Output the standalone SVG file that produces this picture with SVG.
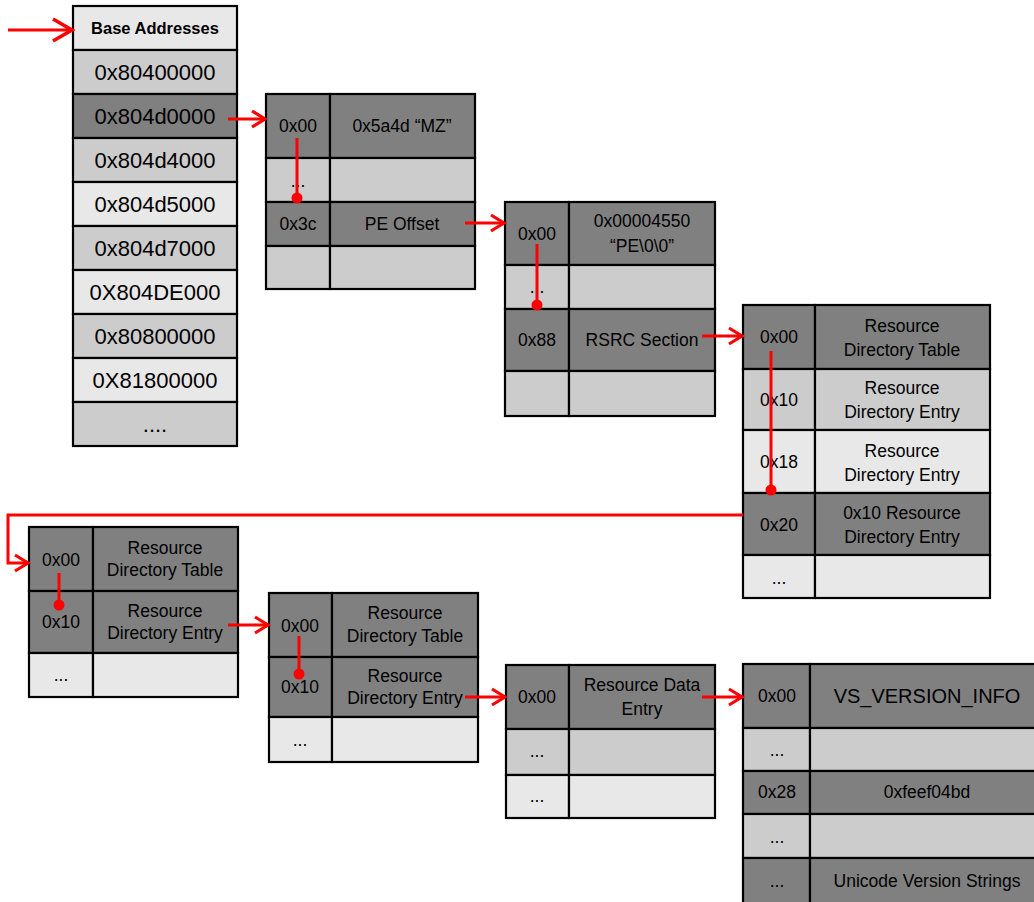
<svg xmlns="http://www.w3.org/2000/svg" width="1034" height="902" viewBox="0 0 1034 902">
<style>
.d{fill:#808080;stroke:#000;stroke-width:2.2}
.m{fill:#cccccc;stroke:#000;stroke-width:2.2}
.l{fill:#e8e8e8;stroke:#000;stroke-width:2.2}
text{font-family:"Liberation Sans",Arial,sans-serif;fill:#000;text-anchor:middle}
.t{font-size:17.5px}
.big{font-size:22px}
.hd{font-size:16.5px;font-weight:bold}
.vs{font-size:20px}
.c{fill:none;stroke:#ff0000;stroke-width:3}
</style>
<defs>
<marker id="ah" markerUnits="userSpaceOnUse" markerWidth="18" markerHeight="20" viewBox="0 0 18 20" refX="15" refY="10" orient="auto">
<path d="M2,2 L15,10 L2,18" fill="none" stroke="#ff0000" stroke-width="3.2"/>
</marker>
<marker id="ahb" markerUnits="userSpaceOnUse" markerWidth="26" markerHeight="26" viewBox="0 0 26 26" refX="22" refY="13" orient="auto">
<path d="M3,2 L22,13 L3,24" fill="none" stroke="#ff0000" stroke-width="3.6"/>
</marker>
<marker id="dot" markerUnits="userSpaceOnUse" markerWidth="14" markerHeight="14" viewBox="0 0 14 14" refX="7" refY="7">
<circle cx="7" cy="7" r="5.5" fill="#ff0000"/>
</marker>
</defs>

<g id="base">
<rect class="l" x="73" y="6" width="164" height="44"/>
<rect class="m" x="73" y="50" width="164" height="44"/>
<rect class="d" x="73" y="94" width="164" height="44"/>
<rect class="m" x="73" y="138" width="164" height="44"/>
<rect class="l" x="73" y="182" width="164" height="44"/>
<rect class="m" x="73" y="226" width="164" height="44"/>
<rect class="l" x="73" y="270" width="164" height="44"/>
<rect class="m" x="73" y="314" width="164" height="44"/>
<rect class="l" x="73" y="358" width="164" height="44"/>
<rect class="m" x="73" y="402" width="164" height="44"/>
<text class="hd" x="155" y="34">Base Addresses</text>
<text class="big" x="155" y="80">0x80400000</text>
<text class="big" x="155" y="124">0x804d0000</text>
<text class="big" x="155" y="168">0x804d4000</text>
<text class="big" x="155" y="212">0x804d5000</text>
<text class="big" x="155" y="256">0x804d7000</text>
<text class="big" x="155" y="300">0X804DE000</text>
<text class="big" x="155" y="344">0x80800000</text>
<text class="big" x="155" y="388">0X81800000</text>
<text class="big" x="155" y="432">....</text>
</g>

<g id="mz">
<rect class="d" x="266" y="94" width="64" height="64"/>
<rect class="d" x="330" y="94" width="145" height="64"/>
<rect class="m" x="266" y="158" width="64" height="44"/>
<rect class="m" x="330" y="158" width="145" height="44"/>
<rect class="d" x="266" y="202" width="64" height="44"/>
<rect class="d" x="330" y="202" width="145" height="44"/>
<rect class="m" x="266" y="246" width="64" height="43"/>
<rect class="m" x="330" y="246" width="145" height="43"/>
<text class="t" x="298" y="132">0x00</text>
<text class="t" x="402" y="132">0x5a4d “MZ”</text>
<text class="t" x="298" y="187">...</text>
<text class="t" x="298" y="230">0x3c</text>
<text class="t" x="402" y="230">PE Offset</text>
</g>

<g id="pe">
<rect class="d" x="505" y="202" width="64" height="63"/>
<rect class="d" x="569" y="202" width="146" height="63"/>
<rect class="m" x="505" y="265" width="64" height="44"/>
<rect class="m" x="569" y="265" width="146" height="44"/>
<rect class="d" x="505" y="309" width="64" height="62"/>
<rect class="d" x="569" y="309" width="146" height="62"/>
<rect class="m" x="505" y="371" width="64" height="45"/>
<rect class="m" x="569" y="371" width="146" height="45"/>
<text class="t" x="537" y="240">0x00</text>
<text class="t" x="642" y="227">0x00004550</text>
<text class="t" x="642" y="252">“PE\0\0”</text>
<text class="t" x="537" y="293">...</text>
<text class="t" x="537" y="346">0x88</text>
<text class="t" x="642" y="346">RSRC Section</text>
</g>

<g id="rdt1">
<rect class="d" x="743" y="305" width="72" height="64"/>
<rect class="d" x="815" y="305" width="175" height="64"/>
<rect class="m" x="743" y="369" width="72" height="61"/>
<rect class="m" x="815" y="369" width="175" height="61"/>
<rect class="l" x="743" y="430" width="72" height="63"/>
<rect class="l" x="815" y="430" width="175" height="63"/>
<rect class="d" x="743" y="493" width="72" height="62"/>
<rect class="d" x="815" y="493" width="175" height="62"/>
<rect class="l" x="743" y="555" width="72" height="43"/>
<rect class="l" x="815" y="555" width="175" height="43"/>
<text class="t" x="779" y="343">0x00</text>
<text class="t" x="902" y="332">Resource</text>
<text class="t" x="902" y="356">Directory Table</text>
<text class="t" x="779" y="406">0x10</text>
<text class="t" x="902" y="394">Resource</text>
<text class="t" x="902" y="418">Directory Entry</text>
<text class="t" x="779" y="468">0x18</text>
<text class="t" x="902" y="457">Resource</text>
<text class="t" x="902" y="481">Directory Entry</text>
<text class="t" x="779" y="531">0x20</text>
<text class="t" x="902" y="519">0x10 Resource</text>
<text class="t" x="902" y="543">Directory Entry</text>
<text class="t" x="779" y="584">...</text>
</g>

<g id="rdt2">
<rect class="d" x="29" y="527" width="64" height="64"/>
<rect class="d" x="93" y="527" width="145" height="64"/>
<rect class="d" x="29" y="591" width="64" height="62"/>
<rect class="d" x="93" y="591" width="145" height="62"/>
<rect class="l" x="29" y="653" width="64" height="44"/>
<rect class="l" x="93" y="653" width="145" height="44"/>
<text class="t" x="61" y="566">0x00</text>
<text class="t" x="165" y="554">Resource</text>
<text class="t" x="165" y="576">Directory Table</text>
<text class="t" x="61" y="628">0x10</text>
<text class="t" x="165" y="617">Resource</text>
<text class="t" x="165" y="639">Directory Entry</text>
<text class="t" x="61" y="681">...</text>
</g>

<g id="rdt3">
<rect class="d" x="269" y="593" width="63" height="64"/>
<rect class="d" x="332" y="593" width="146" height="64"/>
<rect class="d" x="269" y="657" width="63" height="60"/>
<rect class="d" x="332" y="657" width="146" height="60"/>
<rect class="l" x="269" y="717" width="63" height="45"/>
<rect class="l" x="332" y="717" width="146" height="45"/>
<text class="t" x="300" y="632">0x00</text>
<text class="t" x="405" y="619">Resource</text>
<text class="t" x="405" y="642">Directory Table</text>
<text class="t" x="300" y="693">0x10</text>
<text class="t" x="405" y="682">Resource</text>
<text class="t" x="405" y="704">Directory Entry</text>
<text class="t" x="300" y="746">...</text>
</g>

<g id="rde">
<rect class="d" x="506" y="665" width="63" height="64"/>
<rect class="d" x="569" y="665" width="146" height="64"/>
<rect class="m" x="506" y="729" width="63" height="46"/>
<rect class="m" x="569" y="729" width="146" height="46"/>
<rect class="l" x="506" y="775" width="63" height="43"/>
<rect class="l" x="569" y="775" width="146" height="43"/>
<text class="t" x="537" y="703">0x00</text>
<text class="t" x="642" y="691">Resource Data</text>
<text class="t" x="642" y="715">Entry</text>
<text class="t" x="537" y="757">...</text>
<text class="t" x="537" y="802">...</text>
</g>

<g id="vsinfo">
<rect class="d" x="743" y="664" width="67" height="64"/>
<rect class="d" x="810" y="664" width="230" height="64"/>
<rect class="m" x="743" y="728" width="67" height="43"/>
<rect class="m" x="810" y="728" width="230" height="43"/>
<rect class="d" x="743" y="771" width="67" height="43"/>
<rect class="d" x="810" y="771" width="230" height="43"/>
<rect class="m" x="743" y="814" width="67" height="44"/>
<rect class="m" x="810" y="814" width="230" height="44"/>
<rect class="d" x="743" y="858" width="67" height="50"/>
<rect class="d" x="810" y="858" width="230" height="50"/>
<text class="t" x="777" y="702">0x00</text>
<text class="vs" x="927" y="703">VS_VERSION_INFO</text>
<text class="t" x="777" y="756">...</text>
<text class="t" x="777" y="798">0x28</text>
<text class="t" x="927" y="798">0xfeef04bd</text>
<text class="t" x="777" y="843">...</text>
<text class="t" x="777" y="887">...</text>
<text class="t" x="927" y="887">Unicode Version Strings</text>
</g>

<g id="connectors">
<line class="c" x1="8" y1="30" x2="72" y2="30" marker-end="url(#ahb)"/>
<line class="c" x1="228" y1="119" x2="265" y2="119" marker-end="url(#ah)"/>
<line class="c" x1="297" y1="138" x2="297" y2="198" marker-end="url(#dot)"/>
<line class="c" x1="465" y1="223" x2="504" y2="223" marker-end="url(#ah)"/>
<line class="c" x1="537" y1="244" x2="537" y2="305" marker-end="url(#dot)"/>
<line class="c" x1="702" y1="336" x2="742" y2="336" marker-end="url(#ah)"/>
<line class="c" x1="771" y1="351" x2="771" y2="490" marker-end="url(#dot)"/>
<polyline class="c" points="743,515 8,515 8,563 28,563" marker-end="url(#ah)"/>
<line class="c" x1="59" y1="573" x2="59" y2="605" marker-end="url(#dot)"/>
<line class="c" x1="228" y1="625" x2="268" y2="625" marker-end="url(#ah)"/>
<line class="c" x1="299" y1="636" x2="299" y2="674" marker-end="url(#dot)"/>
<line class="c" x1="465" y1="697" x2="505" y2="697" marker-end="url(#ah)"/>
<line class="c" x1="702" y1="697" x2="742" y2="697" marker-end="url(#ah)"/>
</g>
</svg>
